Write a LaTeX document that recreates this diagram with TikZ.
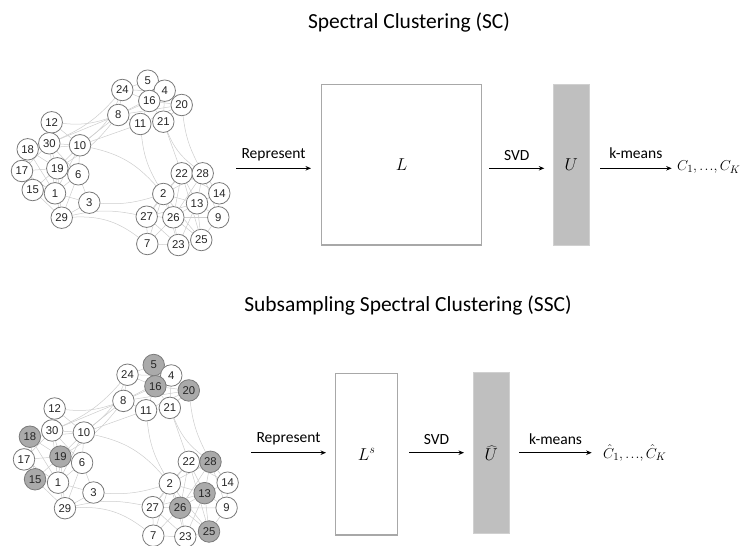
\documentclass[tikz,border=0pt]{standalone}
\usepackage{fontspec}
\setmainfont{Carlito}
\newfontfamily\numfont{Liberation Sans}
\usetikzlibrary{arrows.meta,backgrounds}
\definecolor{edgec}{HTML}{CDCDCD}
\definecolor{nodeb}{HTML}{7A7A7A}
\definecolor{shadec}{HTML}{AAAAAA}
\definecolor{boxb}{HTML}{A8A8A8}
\definecolor{ufill}{HTML}{BFBFBF}
\definecolor{ubord}{HTML}{D0D0D0}
\newcommand{\mydots}{{.}\mkern1.5mu{.}\mkern1.5mu{.}}
\def\gnodes{5/147.7/80.7, 4/164.7/90.7, 24/122.3/90, 16/149.3/101, 20/181.7/105, 8/118.3/115, 11/140.3/124, 21/163.3/121.7, 12/51.7/122.3, 30/49.3/143.3, 10/80/145.3, 18/27.7/149.3, 19/57.3/168.3, 6/78.3/174.3, 17/22/171, 15/32.7/190, 1/55/193.3, 3/89.3/202.7, 29/61.7/217.7, 22/181.7/173.3, 28/202.7/173.3, 2/163.3/194, 14/219.3/193.3, 13/197/203.3, 27/146.7/216.7, 26/173.3/217.3, 9/218.3/217.3, 25/201.3/240, 23/178.3/245, 7/147.3/244}
\def\gedges{12/30, 12/10, 30/10, 30/18, 30/19, 30/17, 30/1, 30/6, 18/19, 18/17, 18/15, 18/1, 17/19, 17/15, 17/1, 15/1, 15/29, 15/19, 19/1, 19/6, 19/10, 19/29, 1/6, 1/29, 1/3, 6/10, 6/29, 6/3, 10/1, 29/3, 18/10, 5/4, 5/16, 5/24, 24/16, 24/8, 16/4, 16/20, 16/8, 16/11, 16/21, 4/20, 4/21, 20/21, 8/11, 8/4, 11/21, 11/20, 24/4, 8/20, 22/28, 22/2, 22/13, 22/26, 22/14, 22/27, 28/13, 28/14, 28/9, 28/26, 2/26, 2/27, 2/13, 2/7, 2/23, 14/13, 14/9, 13/26, 13/9, 13/25, 13/23, 27/26, 27/7, 27/23, 26/7, 26/23, 26/25, 26/9, 9/25, 25/23, 7/23, 22/25, 28/2, 2/25, 27/13, 30/8, 10/8, 10/11, 21/22}
\def\gbends{12/8/-12, 10/24/-15, 10/2/18, 3/2/-10, 29/27/12, 29/7/20, 11/2/-12, 21/28/-15, 20/28/-10, 8/19/10, 24/30/12}
\tikzset{
  gnode/.style={circle, draw=nodeb, line width=0.8bp, fill=white, minimum size=21.5bp, inner sep=0pt, font=\numfont\fontsize{11.3bp}{13bp}\selectfont, text=black!85},
  gedge/.style={draw=edgec, line width=0.5bp},
  bsh5/.style={fill=shadec}, bsh16/.style={fill=shadec}, bsh20/.style={fill=shadec},
  bsh18/.style={fill=shadec}, bsh19/.style={fill=shadec}, bsh15/.style={fill=shadec},
  bsh28/.style={fill=shadec}, bsh13/.style={fill=shadec}, bsh26/.style={fill=shadec},
  bsh25/.style={fill=shadec},
  title/.style={font=\fontsize{21.5bp}{25bp}\selectfont},
  lab/.style={font=\fontsize{15.5bp}{18bp}\selectfont},
  mathlab/.style={font=\fontsize{15.5bp}{18bp}\selectfont, inner sep=0pt},
  arr/.style={-{Stealth[length=5.5bp,width=4.5bp]}, line width=0.9bp},
  mbox/.style={draw=boxb, line width=1.2bp, fill=white, font=\fontsize{17bp}{20bp}\selectfont},
  ubox/.style={draw=ubord, line width=1bp, fill=ufill, font=\fontsize{17bp}{20bp}\selectfont},
}
\begin{document}
\begin{tikzpicture}[x=1bp,y=-1bp]
\useasboundingbox (0,0) rectangle (747,546);
% ---------- top graph ----------
\foreach \n/\x/\y in \gnodes { \node[gnode] (t\n) at (\x,\y) {\n}; }
\begin{pgfonlayer}{background}
\foreach \a/\b in \gedges { \draw[gedge] (t\a) -- (t\b); }
\foreach \a/\b/\c in \gbends { \draw[gedge] (t\a) to[bend left=\c] (t\b); }
\end{pgfonlayer}
% ---------- bottom graph ----------
\begin{scope}[shift={(1.3,280.7)}, xscale=1.032, yscale=1.045]
\foreach \n/\x/\y in \gnodes { \node[gnode, bsh\n/.try] (b\n) at (\x,\y) {\n}; }
\begin{pgfonlayer}{background}
\foreach \a/\b in \gedges { \draw[gedge] (b\a) -- (b\b); }
\foreach \a/\b/\c in \gbends { \draw[gedge] (b\a) to[bend left=\c] (b\b); }
\end{pgfonlayer}
\end{scope}
% ---------- titles ----------
\node[title] (t1title) at (409,22) {Spectral Clustering (SC)};
\node[title] (t2title) at (408,305) {Subsampling Spectral Clustering (SSC)};
% ---------- top pipeline ----------
\coordinate (r1s) at (236,168.3);
\coordinate (r1e) at (311,168.3);
\draw[arr] (r1s) -- (r1e) node[midway, above=4bp, lab] (r1lab) {Represent};
\node[mbox, minimum width=160bp, minimum height=160.7bp] (Lbox) at (401.7,164.7) {$L$};
\coordinate (s1s) at (489.3,168.3);
\coordinate (s1e) at (544.3,168.3);
\draw[arr] (s1s) -- (s1e) node[midway, above=4bp, lab] (s1lab) {SVD};
\node[ubox, minimum width=35.7bp, minimum height=160.7bp] (Ubox) at (571.2,164.7) {$U$};
\coordinate (k1s) at (600,168.3);
\coordinate (k1e) at (671.7,168.3);
\draw[arr] (k1s) -- (k1e) node[midway, above=6bp, lab] (k1lab) {k-means};
\node[mathlab, anchor=west] (C1) at (677,167) {$C_1,\mydots,C_K$};
% ---------- bottom pipeline ----------
\coordinate (r2s) at (251,452.7);
\coordinate (r2e) at (326,452.7);
\draw[arr] (r2s) -- (r2e) node[midway, above=4bp, lab] (r2lab) {Represent};
\node[mbox, minimum width=62bp, minimum height=161.3bp] (Lsbox) at (366.7,454.3) {$L^s$};
\coordinate (s2s) at (409,452.7);
\coordinate (s2e) at (464,452.7);
\draw[arr] (s2s) -- (s2e) node[midway, above=4bp, lab] (s2lab) {SVD};
\node[ubox, minimum width=36bp, minimum height=161.3bp] (Uhbox) at (491.3,453.3) {$\widehat{U}$};
\coordinate (k2s) at (519.3,452.7);
\coordinate (k2e) at (591.7,452.7);
\draw[arr] (k2s) -- (k2e) node[midway, above=4bp, lab] (k2lab) {k-means};
\node[mathlab, anchor=west] (C2) at (603,453) {$\hat{C}_1,\mydots,\hat{C}_K$};
\end{tikzpicture}
\end{document}
